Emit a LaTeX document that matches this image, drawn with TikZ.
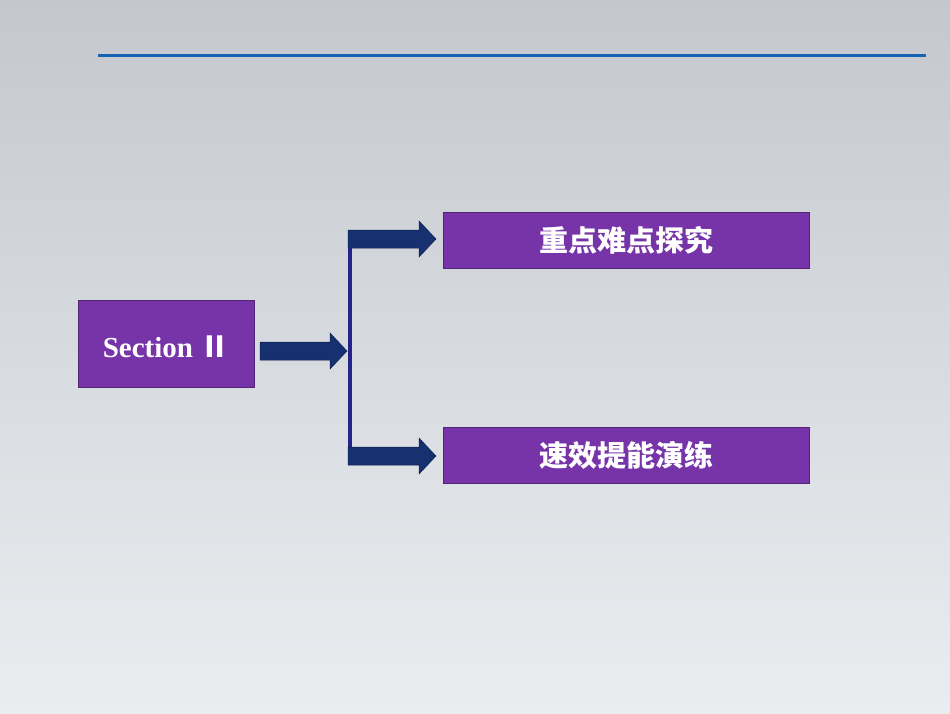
\documentclass[tikz,border=0pt]{standalone}
\usepackage{fontspec}
\setmainfont{Liberation Serif}
\newfontfamily\cjk{Noto Sans CJK SC}
\definecolor{boxp}{RGB}{118,52,168}
\definecolor{arr}{RGB}{22,48,112}
\definecolor{vline}{RGB}{36,36,140}
\definecolor{topline}{RGB}{20,100,180}
\newcommand{\blockarrow}[3]{% name, start coord, length
  \draw[fill=arr,draw=arr!70!black,line width=0.5pt] (#2) ++(0,-9) -- ++(#3-17,0) -- ++(0,-9) -- ++(17,18) -- ++(-17,18) -- ++(0,-9) -- ++(-#3+17,0) -- cycle;}
\begin{document}
\begin{tikzpicture}[x=1pt,y=-1pt,
  pbox/.style={fill=boxp,draw=boxp!70!black,line width=0.8pt,text=white,inner sep=0pt}]
\shade[top color={rgb,255:red,196;green,200;blue,205},bottom color={rgb,255:red,234;green,237;blue,240}] (0,0) rectangle (950,713);
\useasboundingbox (0,0) rectangle (950,713);
\draw[topline,line width=3pt] (98,55) -- (926,55);
\node[pbox,minimum width=176pt,minimum height=87pt,text depth=0pt] (sec) at (166,343.5) {\raisebox{-7pt}{\bfseries\fontsize{29}{32}\selectfont Section {\cjk Ⅱ}}};
\node[pbox,minimum width=366pt,minimum height=56pt] (b1) at (626,240) {\cjk\bfseries\fontsize{29}{32}\selectfont 重点难点探究};
\node[pbox,minimum width=366pt,minimum height=56pt] (b2) at (626,455) {\cjk\bfseries\fontsize{29}{32}\selectfont 速效提能演练};
\coordinate (vt) at (350,230);
\coordinate (vb) at (350,465);
\draw[vline,line width=4pt] (vt) -- (vb);
\coordinate (s0) at (260,351);
\coordinate (s1) at (348,239);
\coordinate (s2) at (348,456);
\blockarrow{a0}{s0}{87}
\blockarrow{a1}{s1}{88}
\blockarrow{a2}{s2}{88}
\end{tikzpicture}
\end{document}
